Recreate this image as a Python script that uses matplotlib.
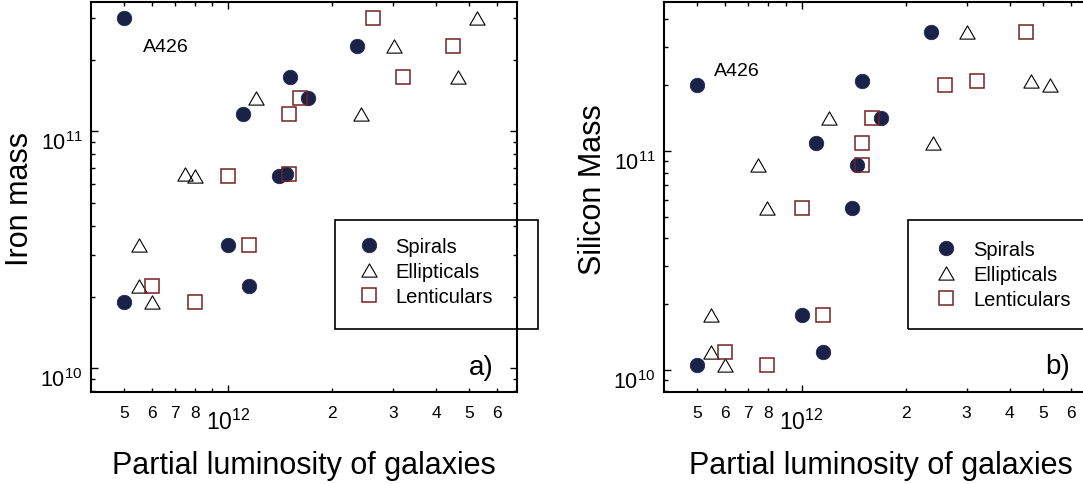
"""
Iron and silicon mass versus partial luminosity of galaxies, by morphological type.
"""
import matplotlib
matplotlib.use('Agg')
import matplotlib.pyplot as plt
from matplotlib.ticker import FixedLocator, FixedFormatter, NullFormatter
from matplotlib.patches import Rectangle
from matplotlib.path import Path

plt.rcParams['font.family'] = ['Liberation Sans', 'DejaVu Sans']

# --- panel a): iron mass ---
lum_sp_fe = [5.0e11, 2.36e12, 1.51e12, 1.70e12, 1.10e12, 1.40e12, 1.47e12, 1.0e12, 1.15e12, 5.0e11]
fe_sp = [3.0e11, 2.29e11, 1.69e11, 1.38e11, 1.18e11, 6.46e10, 6.62e10, 3.32e10, 2.22e10, 1.90e10]
lum_el_fe = [5.26e12, 3.02e12, 4.64e12, 1.20e12, 2.42e12, 7.48e11, 8.01e11, 5.5e11, 5.5e11, 6.0e11]
fe_el = [3.0e11, 2.29e11, 1.69e11, 1.38e11, 1.18e11, 6.58e10, 6.46e10, 3.32e10, 2.22e10, 1.90e10]
lum_le_fe = [2.62e12, 4.48e12, 3.22e12, 1.61e12, 1.50e12, 1.50e12, 1.0e12, 1.15e12, 6.0e11, 8.01e11]
fe_le = [3.0e11, 2.29e11, 1.69e11, 1.38e11, 1.18e11, 6.58e10, 6.46e10, 3.32e10, 2.22e10, 1.90e10]

# --- panel b): silicon mass ---
lum_sp_si = [5.0e11, 2.36e12, 1.50e12, 1.70e12, 1.10e12, 1.45e12, 1.40e12, 1.0e12, 1.15e12, 5.0e11]
si_sp = [2.0e11, 3.52e11, 2.09e11, 1.42e11, 1.09e11, 8.63e10, 5.52e10, 1.79e10, 1.21e10, 1.06e10]
lum_el_si = [3.01e12, 4.61e12, 5.22e12, 1.20e12, 2.40e12, 7.47e11, 7.96e11, 5.48e11, 5.48e11, 6.0e11]
si_el = [3.52e11, 2.09e11, 2.0e11, 1.42e11, 1.09e11, 8.63e10, 5.52e10, 1.79e10, 1.21e10, 1.06e10]
lum_le_si = [4.47e12, 2.60e12, 3.21e12, 1.60e12, 1.50e12, 1.50e12, 1.0e12, 1.15e12, 6.0e11, 7.96e11]
si_le = [3.52e11, 2.0e11, 2.09e11, 1.42e11, 1.09e11, 8.63e10, 5.52e10, 1.79e10, 1.21e10, 1.06e10]

NAVY = '#1b2249'
DARKRED = '#732323'

# equilateral-ish open triangle
tri = Path([(0, 0.433), (-0.5, -0.433), (0.5, -0.433), (0, 0.433)],
           [Path.MOVETO, Path.LINETO, Path.LINETO, Path.CLOSEPOLY])

x_minor = [5e11, 6e11, 7e11, 8e11, 9e11, 2e12, 3e12, 4e12, 5e12, 6e12]
x_minor_labels = ['5', '6', '7', '8', '', '2', '3', '4', '5', '6']
y_minor = [m * d for d in (1e9, 1e10, 1e11) for m in range(2, 10)]


def style_axes(ax, ylim):
    ax.set_xscale('log')
    ax.set_yscale('log')
    ax.set_xlim(4.0e11, 6.87e12)
    ax.set_ylim(*ylim)
    for sp in ax.spines.values():
        sp.set_linewidth(1.5)
    ax.xaxis.set_major_locator(FixedLocator([1e12]))
    ax.xaxis.set_major_formatter(FixedFormatter([r'$\mathregular{10^{12}}$']))
    ax.xaxis.set_minor_locator(FixedLocator(x_minor))
    ax.xaxis.set_minor_formatter(FixedFormatter(x_minor_labels))
    ax.yaxis.set_major_locator(FixedLocator([1e10, 1e11]))
    ax.yaxis.set_major_formatter(FixedFormatter([r'$\mathregular{10^{10}}$',
                                                 r'$\mathregular{10^{11}}$']))
    ax.yaxis.set_minor_locator(FixedLocator(y_minor))
    ax.yaxis.set_minor_formatter(NullFormatter())
    ax.tick_params(which='both', direction='in', top=True, right=True, width=1.0)
    ax.tick_params(which='major', length=5)
    ax.tick_params(which='minor', length=3)
    ax.tick_params(axis='x', which='minor', labelsize=12.5, pad=9.5)
    ax.tick_params(axis='x', which='major', labelsize=16.5, pad=12)
    ax.tick_params(axis='y', which='major', labelsize=15.5, pad=6)
    for lab in ax.get_yticklabels():
        lab.set_verticalalignment('top')


def draw_points(ax, ls, ms, le, me, ll, ml):
    ax.plot(ls, ms, 'o', ms=10.5, mfc=NAVY, mec=NAVY, mew=0.5, ls='none', label='Spirals')
    ax.plot(le, me, marker=tri, ms=11, mfc='none', mec='black', mew=0.8, ls='none',
            label='Ellipticals')
    ax.plot(ll, ml, 's', ms=10, mfc='none', mec=DARKRED, mew=1.1, ls='none',
            label='Lenticulars')


def add_legend(ax, box_x0, box_y0, box_y1, hx, hy):
    ax.add_patch(Rectangle((box_x0, box_y0), 1.0 - box_x0 + 0.05, box_y1 - box_y0,
                           transform=ax.transAxes, fill=False, ec='black', lw=1.2,
                           clip_on=False, zorder=5))
    ax.legend(loc='center left', bbox_to_anchor=(hx, hy), frameon=False,
              fontsize=14.5, borderaxespad=0, borderpad=0, handlelength=1.0,
              handletextpad=0.82, labelspacing=0.3, numpoints=1)


fig = plt.figure(figsize=(10.83, 4.85), dpi=100)
ax1 = fig.add_axes([0.0840, 0.1903, 0.3934, 0.8041])
ax2 = fig.add_axes([0.6131, 0.1903, 0.3943, 0.8041])

# Panel a)
style_axes(ax1, (7.94e9, 3.53e11))
draw_points(ax1, lum_sp_fe, fe_sp, lum_el_fe, fe_el, lum_le_fe, fe_le)
ax1.text(5.66e11, 2.29e11, 'A426', fontsize=14, ha='left', va='center')
ax1.text(0.944, 0.063, 'a)', fontsize=20, ha='right', va='center', transform=ax1.transAxes)
ax1.set_xlabel('Partial luminosity of galaxies', fontsize=22)
ax1.set_ylabel('Iron mass', fontsize=22)
ax1.xaxis.set_label_coords(0.5, -0.150)
ax1.yaxis.set_label_coords(-0.132, 0.497)
add_legend(ax1, 0.573, 0.161, 0.441, 0.628, 0.309)

# Panel b)
style_axes(ax2, (7.98e9, 4.82e11))
draw_points(ax2, lum_sp_si, si_sp, lum_el_si, si_el, lum_le_si, si_le)
ax2.text(5.59e11, 2.33e11, 'A426', fontsize=14, ha='left', va='center')
ax2.text(0.950, 0.067, 'b)', fontsize=20, ha='right', va='center', transform=ax2.transAxes)
ax2.set_xlabel('Partial luminosity of galaxies', fontsize=22)
ax2.set_ylabel('Silicon Mass', fontsize=22)
ax2.xaxis.set_label_coords(0.509, -0.150)
ax2.yaxis.set_label_coords(-0.131, 0.522)
add_legend(ax2, 0.571, 0.161, 0.441, 0.638, 0.301)

plt.savefig('out.png', dpi=100)
plt.close()
